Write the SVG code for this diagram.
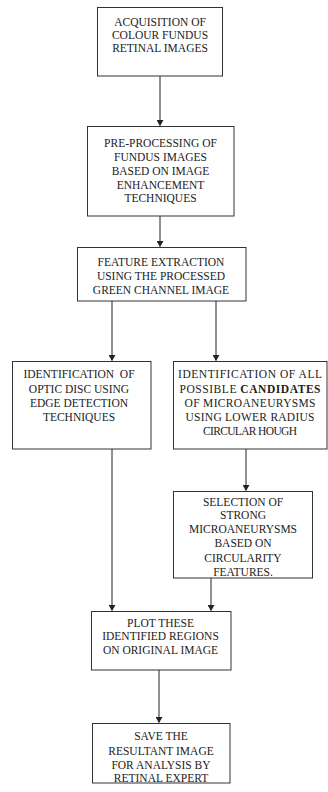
<svg xmlns="http://www.w3.org/2000/svg" width="328" height="792" viewBox="0 0 328 792">
<style>
.box{fill:#fff;stroke:#333;stroke-width:1}
.t text{font-family:'Liberation Serif','Times New Roman',Times,serif;font-size:11.5px;fill:#222;text-anchor:middle}
.c{stroke:#222;stroke-width:1;fill:none}
.b{font-weight:bold}
</style>
<defs>
<marker id="ah" markerWidth="6" markerHeight="7" refX="5.5" refY="3.5" orient="auto" markerUnits="userSpaceOnUse">
<path d="M0,0 L6,3.5 L0,7 Z" fill="#222"/>
</marker>
</defs>
<rect width="328" height="792" fill="#fff"/>
<g id="connectors">
<line class="c" x1="160" y1="76" x2="160" y2="125.5" marker-end="url(#ah)"/>
<line class="c" x1="160" y1="216" x2="160" y2="246.5" marker-end="url(#ah)"/>
<line class="c" x1="112" y1="301" x2="112" y2="360.5" marker-end="url(#ah)"/>
<line class="c" x1="216" y1="301" x2="216" y2="360.5" marker-end="url(#ah)"/>
<line class="c" x1="246" y1="449" x2="246" y2="490.5" marker-end="url(#ah)"/>
<line class="c" x1="112" y1="449" x2="112" y2="610.5" marker-end="url(#ah)"/>
<line class="c" x1="211" y1="578" x2="211" y2="610.5" marker-end="url(#ah)"/>
<line class="c" x1="159" y1="670" x2="159" y2="722.5" marker-end="url(#ah)"/>
</g>
<g class="t" font-family="Liberation Serif, serif">
<g id="n1">
<rect class="box" x="97.5" y="7.5" width="125" height="68.5"/>
<text x="160" y="26">ACQUISITION  OF</text>
<text x="160" y="39">COLOUR FUNDUS</text>
<text x="160" y="52">RETINAL  IMAGES</text>
</g>
<g id="n2">
<rect class="box" x="87.5" y="126.5" width="146.5" height="89.5"/>
<text x="160.5" y="147">PRE-PROCESSING OF</text>
<text x="160.5" y="161">FUNDUS IMAGES</text>
<text x="160.5" y="175">BASED ON IMAGE</text>
<text x="160.5" y="189">ENHANCEMENT</text>
<text x="160.5" y="202">TECHNIQUES</text>
</g>
<g id="n3">
<rect class="box" x="77.5" y="247.5" width="168.5" height="53.5"/>
<text x="161" y="266">FEATURE EXTRACTION</text>
<text x="161" y="280">USING THE PROCESSED</text>
<text x="161" y="294">GREEN CHANNEL IMAGE</text>
</g>
<g id="n4">
<rect class="box" x="12.5" y="361.5" width="138.5" height="87.5"/>
<text x="79" y="378" xml:space="preserve">IDENTIFICATION  OF</text>
<text x="79" y="393">OPTIC DISC USING</text>
<text x="79" y="407">EDGE DETECTION</text>
<text x="79" y="421">TECHNIQUES</text>
</g>
<g id="n5">
<rect class="box" x="173.5" y="361.5" width="153.5" height="87.5"/>
<text x="250" y="378" textLength="144" lengthAdjust="spacing">IDENTIFICATION OF ALL</text>
<text x="250" y="393" textLength="141" lengthAdjust="spacing">POSSIBLE <tspan class="b">CANDIDATES</tspan></text>
<text x="250" y="407" textLength="131" lengthAdjust="spacing">OF MICROANEURYSMS</text>
<text x="250" y="421" textLength="129" lengthAdjust="spacing">USING LOWER RADIUS</text>
<text x="250" y="435" textLength="94" lengthAdjust="spacing">CIRCULAR HOUGH</text>
</g>
<g id="n6">
<rect class="box" x="173.5" y="491.5" width="139" height="86.5"/>
<text x="243" y="506">SELECTION OF</text>
<text x="243" y="519">STRONG</text>
<text x="243" y="533">MICROANEURYSMS</text>
<text x="243" y="547">BASED ON</text>
<text x="243" y="562">CIRCULARITY</text>
<text x="243" y="576">FEATURES.</text>
</g>
<g id="n7">
<rect class="box" x="91.5" y="611.5" width="139.5" height="58.5"/>
<text x="160.5" y="627">PLOT THESE</text>
<text x="160.5" y="640">IDENTIFIED REGIONS</text>
<text x="160.5" y="654">ON ORIGINAL  IMAGE</text>
</g>
<g id="n8">
<rect class="box" x="92.5" y="723.5" width="137.5" height="59.5"/>
<text x="161" y="740">SAVE THE</text>
<text x="161" y="755">RESULTANT  IMAGE</text>
<text x="161" y="769">FOR ANALYSIS  BY</text>
<text x="161" y="782">RETINAL  EXPERT</text>
</g>
</g>
</svg>
